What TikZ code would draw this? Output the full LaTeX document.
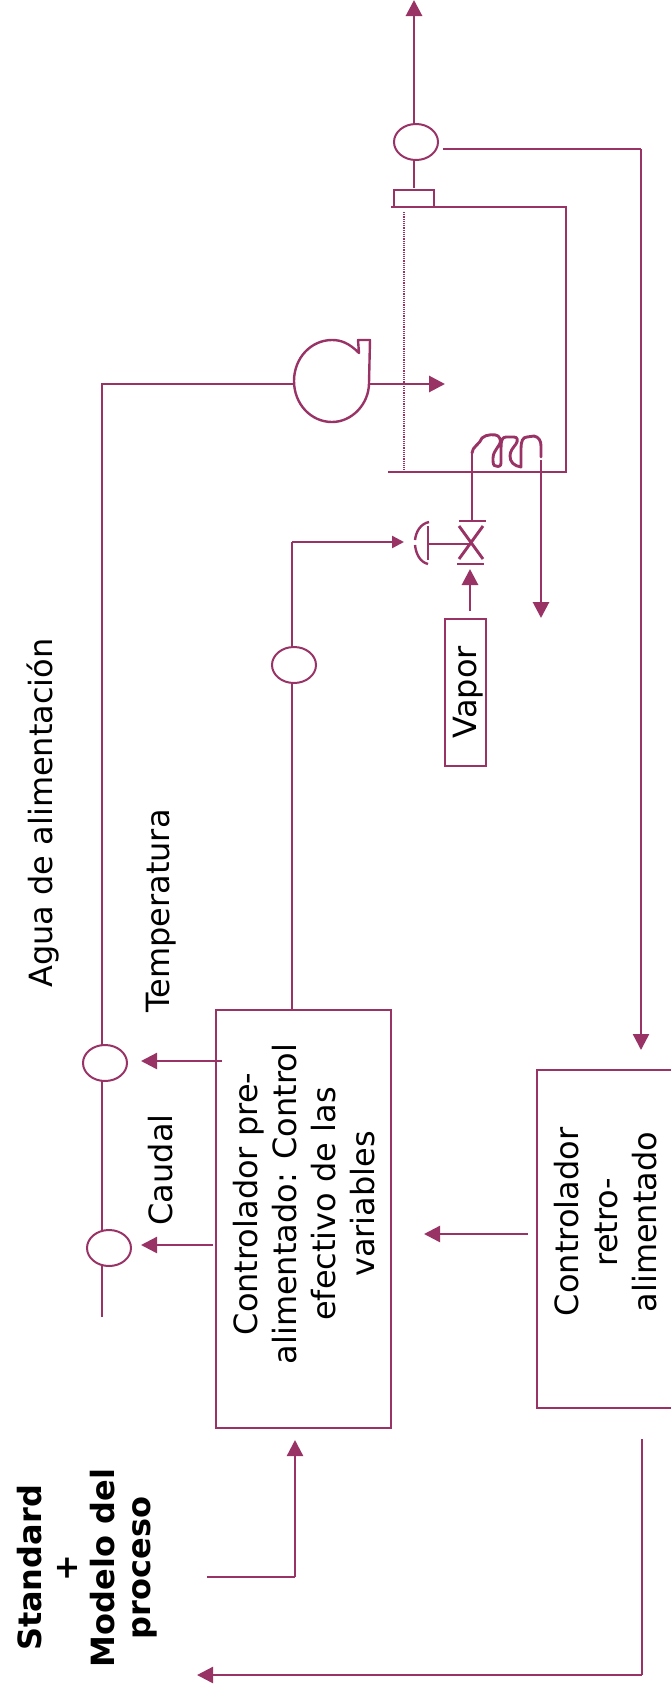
\documentclass[tikz,border=0pt]{standalone}
\usepackage{fontspec}
\setmainfont{DejaVu Sans}
\usetikzlibrary{arrows.meta,shapes.geometric}
\definecolor{plum}{HTML}{993366}
\tikzset{
  line/.style={draw=plum,line width=2.9pt},
  thin line/.style={draw=plum,line width=2.4pt},
  big arrow/.style={-{Triangle[length=16pt,width=16pt,fill=plum]}},
  small arrow/.style={-{Triangle[length=12pt,width=12pt,fill=plum]}},
  meter/.style={ellipse,draw=plum,line width=2pt,fill=white,minimum width=44pt,minimum height=36pt,inner sep=0pt},
  boxed/.style={rectangle,draw=plum,line width=2pt,inner sep=0pt},
  label/.style={rotate=90,text=black,font=\fontsize{32}{39}\selectfont,align=center,inner sep=0pt},
  blabel/.style={rotate=90,text=black,font=\fontsize{32}{36.5}\selectfont\bfseries,align=center,inner sep=0pt}
}
\begin{document}
\begin{tikzpicture}[x=1pt,y=-1pt]
\useasboundingbox (0,0) rectangle (671,1689);
% coordinates
\coordinate (topend) at (414,0);
\coordinate (sigA) at (443,149);
\coordinate (sigB) at (641,149);
\coordinate (sigEnd) at (641,1050);
\coordinate (tankTL) at (391,207);
\coordinate (tankTR) at (566,207);
\coordinate (tankBR) at (566,472);
\coordinate (tankBL) at (388,472);
\coordinate (dotT) at (404,212);
\coordinate (dotB) at (404,470);
\coordinate (pumpOut) at (370,384);
\coordinate (feedEnd) at (445,384);
\coordinate (pumpIn) at (294,384);
\coordinate (feedCorner) at (102,384);
\coordinate (feedBottom) at (102,1317);
\coordinate (topCorner) at (292,542);
\coordinate (actIn) at (404,542);
\coordinate (stemTop) at (472,520);
\coordinate (coilStart) at (472,453);
\coordinate (coilEnd) at (541,457);
\coordinate (condOut) at (541,460);
\coordinate (condEnd) at (541,618);
\coordinate (steamOut) at (470,611);
\coordinate (steamEnd) at (470,569);
\coordinate (tempStart) at (222,1061);
\coordinate (tempEnd) at (141,1061);
\coordinate (caudStart) at (213,1245);
\coordinate (caudEnd) at (141,1245);
\coordinate (fbStart) at (528,1234);
\coordinate (fbEnd) at (424,1234);
\coordinate (stdStart) at (207,1577);
\coordinate (stdCorner) at (295,1577);
\coordinate (stdEnd) at (295,1440);
\coordinate (retStart) at (642,1439);
\coordinate (retCorner) at (642,1675);
\coordinate (retEnd) at (197,1675);
% boxes
\node[boxed,minimum width=175pt,minimum height=418pt] (pre) at (303.5,1219) {};
\node[boxed,minimum width=140pt,minimum height=338pt] (retro) at (607,1239) {};
\node[boxed,minimum width=41pt,minimum height=147pt] (vapor) at (465.5,692.5) {};
\node[boxed,minimum width=40pt,minimum height=17pt] (flange) at (414,198.5) {};
% lines
\draw[line,big arrow] (414,125) -- (topend);
\draw[line] (414,160) -- (414,188);
\draw[thin line] (sigA) -- (sigB);
\draw[thin line,big arrow] (sigB) -- (sigEnd);
\draw[line] (tankTL) -- (tankTR) -- (tankBR) -- (tankBL);
\draw[plum,line width=1.2pt,densely dotted] (dotT) -- (dotB);
\draw[line,big arrow] (pumpOut) -- (feedEnd);
\draw[thin line] (pumpIn) -- (feedCorner) -- (feedBottom);
\draw[thin line] (292,1010) -- (topCorner);
\draw[thin line,small arrow] (topCorner) -- (actIn);
\draw[line,big arrow] (condOut) -- (condEnd);
\draw[line,big arrow] (steamOut) -- (steamEnd);
\draw[thin line,big arrow] (tempStart) -- (tempEnd);
\draw[thin line,big arrow] (caudStart) -- (caudEnd);
\draw[thin line,big arrow] (fbStart) -- (fbEnd);
\draw[thin line] (stdStart) -- (stdCorner);
\draw[thin line,big arrow] (stdCorner) -- (stdEnd);
\draw[thin line] (retStart) -- (retCorner);
\draw[thin line,big arrow] (retCorner) -- (retEnd);
% meters
\node[meter] (m1) at (416,142) {};
\node[meter] (m2) at (294,665) {};
\node[meter] (m3) at (105,1063) {};
\node[meter] (m4) at (109,1248) {};
% pump
\draw[thin line,line join=round] (359,353) .. controls (349,343) and (341,340) .. (332,340)
  .. controls (311,340) and (294,358) .. (294,381)
  .. controls (294,404) and (311,422) .. (332,422)
  .. controls (352,422) and (369,404) .. (369,383) -- (370,340) -- (358,340) -- (359,353) -- cycle;
% coil
\draw[line] (stemTop) -- (coilStart);
\draw[line,line cap=round,line join=round] (coilStart)
  .. controls (472,447) and (480,444) .. (482,438)
  .. controls (486,434) and (496,434) .. (498,436)
  .. controls (501,439) and (501,442) .. (499,445)
  .. controls (496,450) and (493,453) .. (493,458)
  .. controls (493,463) and (493,466) .. (496,466)
  .. controls (499,467) and (501,466) .. (501,463)
  -- (501,448)
  .. controls (501,441) and (502,437) .. (506,437)
  -- (514,437)
  .. controls (518,437) and (518,441) .. (516,444)
  .. controls (513,448) and (510,451) .. (510,456)
  .. controls (510,462) and (514,466) .. (521,467)
  -- (521,448)
  .. controls (521,441) and (523,437) .. (527,437)
  -- (534,436)
  .. controls (539,437) and (541,441) .. (541,446) -- (coilEnd);
% valve
\draw[line] (459,521) -- (486,521);
\draw[line] (457,564) -- (484,564);
\draw[line] (459,526) -- (483,559);
\draw[line] (483,526) -- (459,559);
\draw[line] (428,544) -- (470,544);
\draw[line] (428,526) -- (428,560);
\draw[thin line] (429,522) .. controls (420,524) and (416,532) .. (415,540);
\draw[thin line] (415,545) .. controls (416,554) and (420,562) .. (428,564);
% labels
\node[label] (t1) at (43,813) {Agua de alimentación};
\node[label] (t2) at (161,911) {Temperatura};
\node[label] (t3) at (161,1170) {Caudal};
\node[label] (t4) at (468,692) {Vapor};
\node[label] (t5) at (304,1204) {Controlador pre-\\alimentado: Control\\efectivo de las\\variables};
\node[label] (t6) at (606,1222) {Controlador\\retro-\\alimentado};
\node[blabel] (t7) at (87,1568) {Standard\\+\\Modelo del\\proceso};
\end{tikzpicture}
\end{document}
